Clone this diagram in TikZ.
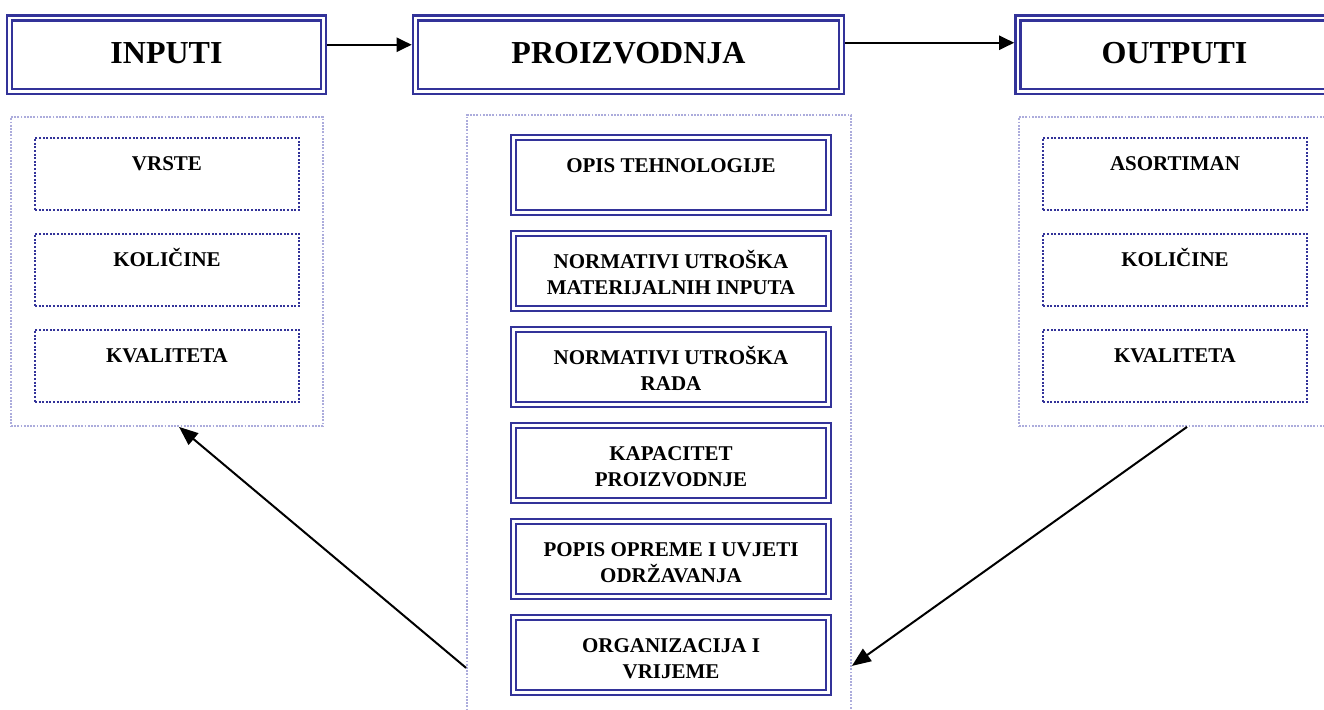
\documentclass[tikz,border=0pt]{standalone}
\usepackage{fontspec}
\setmainfont{Liberation Serif}
\usetikzlibrary{arrows.meta}
\definecolor{dblue}{RGB}{51,51,153}
\definecolor{lblue}{RGB}{172,172,220}
\tikzset{
  dbox/.style={draw=dblue, line width=2.6pt, double=white, double distance=2.4pt,
     inner sep=0pt, outer sep=3.8pt, font=\bfseries},
  cont/.style={draw=lblue, line width=1.8pt, dash pattern=on 1.8pt off 1.4pt,
     inner sep=0pt, minimum width=#1},
  dotbox/.style={draw=dblue, line width=2pt, dash pattern=on 2pt off 1.6pt,
     inner sep=0pt, font=\bfseries},
  arr/.style={line width=2pt, -{Triangle[length=15pt,width=14pt]}},
  darr/.style={line width=2pt, -{Triangle[length=19pt,width=15pt]}}
}
\newcommand{\tbox}[4]{\parbox[c][#2pt][t]{#1pt}{\centering\rule{0pt}{#3pt}#4}}
\begin{document}
\begin{tikzpicture}[x=1pt,y=-1pt]
\useasboundingbox (0,0) rectangle (1324,709);
\clip (0,0) rectangle (1324,709);
% top boxes
\node[dbox] (inp) at (166.5,54.75) {\tbox{314}{73.5}{45}{\fontsize{32}{38}\selectfont INPUTI}};
\node[dbox] (pro) at (628.5,54.75) {\tbox{426}{73.5}{45}{\fontsize{32}{38}\selectfont PROIZVODNJA}};
\node[dbox] (out) at (1174.5,54.75) {\tbox{313}{73.5}{45}{\fontsize{32}{38}\selectfont OUTPUTI}};
\draw[arr] ([yshift=10pt]inp.east) -- ([yshift=10pt]pro.west);
\draw[arr] ([yshift=12pt]pro.east) -- ([yshift=12pt]out.west);
% containers
\node[cont=312pt, minimum height=309pt] (leftc) at (167,271.5) {};
\node[cont=312pt, minimum height=309pt] (rightc) at (1175,271.5) {};
\node[cont=384pt, minimum height=600pt] (midc) at (659,415) {};
% left dotted boxes
\node[dotbox] (l1) at (167,174) {\tbox{264}{72}{32}{\fontsize{21}{26}\selectfont VRSTE}};
\node[dotbox] (l2) at (167,270) {\tbox{264}{72}{32}{\fontsize{21}{26}\selectfont KOLIČINE}};
\node[dotbox] (l3) at (167,366) {\tbox{264}{72}{32}{\fontsize{21}{26}\selectfont KVALITETA}};
% right dotted boxes
\node[dotbox] (r1) at (1175,174) {\tbox{264}{72}{32}{\fontsize{21}{26}\selectfont ASORTIMAN}};
\node[dotbox] (r2) at (1175,270) {\tbox{264}{72}{32}{\fontsize{21}{26}\selectfont KOLIČINE}};
\node[dotbox] (r3) at (1175,366) {\tbox{264}{72}{32}{\fontsize{21}{26}\selectfont KVALITETA}};
% middle boxes
\node[dbox] (m1) at (671,175) {\tbox{315}{75}{35}{\fontsize{21}{26}\selectfont OPIS TEHNOLOGIJE}};
\node[dbox] (m2) at (671,271) {\tbox{315}{75}{35}{\fontsize{21}{26}\selectfont NORMATIVI UTROŠKA\\MATERIJALNIH INPUTA}};
\node[dbox] (m3) at (671,367) {\tbox{315}{75}{35}{\fontsize{21}{26}\selectfont NORMATIVI UTROŠKA\\RADA}};
\node[dbox] (m4) at (671,463) {\tbox{315}{75}{35}{\fontsize{21}{26}\selectfont KAPACITET\\PROIZVODNJE}};
\node[dbox] (m5) at (671,559) {\tbox{315}{75}{35}{\fontsize{21}{26}\selectfont POPIS OPREME I UVJETI\\ODRŽAVANJA}};
\node[dbox] (m6) at (671,655) {\tbox{315}{75}{35}{\fontsize{21}{26}\selectfont ORGANIZACIJA I\\VRIJEME}};
% feedback arrows
\draw[darr] ([yshift=48pt]midc.south west) -- ([xshift=12pt]leftc.south);
\draw[darr] ([xshift=12pt]rightc.south) -- ([yshift=50pt]midc.south east);
\end{tikzpicture}
\end{document}
